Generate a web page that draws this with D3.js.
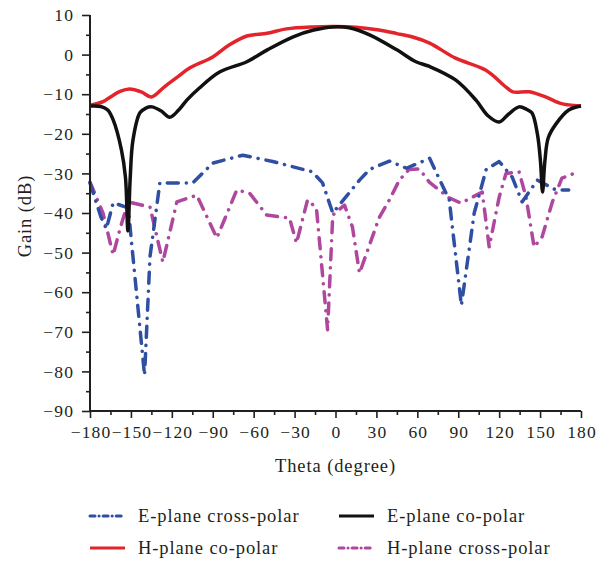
<!DOCTYPE html>
<html>
<head>
<meta charset="utf-8">
<script src="https://cdn.jsdelivr.net/npm/d3@7"></script>
<style>
  body { margin: 0; background: #fff; }
  svg text { font-family: "Liberation Serif", "Times New Roman", serif; fill: #231f20; }
</style>
</head>
<body>
<script>
// ---------------- data (gain in dB against theta in degrees) ----------------

const hCoTheta = [-180, -170, -165, -158, -151, -142, -135, -125, -116, -107, -90, -78, -65, -50, -36, -17, 0, 15, 32, 45, 56, 69, 88, 110, 125, 130, 142, 154, 165, 171, 180];
const hCoGain  = [-12.8, -11.8, -10.7, -9.3, -8.7, -9.5, -10.7, -8, -5.7, -3.4, -0.6, 2.4, 4.7, 5.4, 6.5, 7, 7.1, 6.9, 6.2, 5.3, 4.5, 2.9, -0.9, -3.9, -8.2, -9.4, -9.4, -10.7, -12.3, -12.7, -13];

const eCoTheta = [-180, -172, -167, -163, -157, -154, -152.2, -150.5, -148.5, -143.4, -139, -134.6, -128, -121.5, -115, -109, -100, -85, -65, -50, -31, -16, -2, 10, 25, 45, 59, 69, 88, 103, 112, 120, 127, 134.6, 140, 144, 148, 150.3, 151.8, 153.5, 156, 161.7, 171, 180];
const eCoGain  = [-13, -13.1, -14, -16.5, -24, -31, -44.5, -31, -21.6, -14.7, -13.5, -13.2, -14.2, -15.8, -14, -11.5, -8.5, -4.4, -1.8, 1.2, 4.5, 6.2, 7, 6.8, 5, 1.2, -1.8, -3, -6.4, -11.5, -15.5, -17, -15, -13.2, -13.8, -14.7, -20, -27, -34.7, -27, -21, -17.5, -14, -13];

const eXTheta = [-180, -172, -168, -163, -152, -140, -136, -128.8, -104.6, -90, -68, -46, -17, -9.5, -2, 17.6, 25, 39.5, 52, 69, 83.4, 92.3, 101.7, 110.5, 120, 129.5, 136.8, 148, 161.7, 171];
const eXGain  = [-32.4, -41, -44, -37.4, -38.7, -81, -51, -32.4, -32.4, -27.4, -25.4, -27, -29.6, -32.4, -40, -31.7, -29, -26.9, -28.7, -26.2, -36.7, -63.3, -40, -29, -27, -30.9, -37.2, -31.7, -34.2, -34.2];

const hXTheta = [-180, -170.5, -163, -158, -152, -136, -126.6, -116.3, -101.7, -87, -72.4, -63, -50.5, -33.7, -28.6, -20.5, -14, -5.8, -2, 6.6, 12.4, 17.6, 32, 39.5, 46.8, 54, 61.5, 68.8, 83.4, 92, 107.6, 112.7, 120, 125, 134.6, 139.7, 145.6, 151.5, 159, 166, 175];
const hXGain  = [-32.2, -40, -50.6, -44, -37.2, -38.5, -52.4, -37.2, -35.5, -46.3, -34.2, -35, -40.5, -41.3, -47.6, -36.7, -38.7, -69.5, -40.5, -38, -43.5, -55.2, -41.2, -36.7, -31.7, -29, -28.9, -32.2, -36.2, -37.5, -34.7, -48.6, -36, -30, -29.6, -36, -48.6, -46, -37.2, -31.2, -30];

const xMajorTicks = d3.range(-180, 181, 30);
const xMinorTicks = d3.range(-165, 180, 30);
const yMajorTicks = d3.range(-90, 11, 10);
const yMinorTicks = d3.range(-85, 10, 10);

const legendItems = [
	{ label: 'E-plane cross-polar', color: '#2f4fa3', dash: '5,4,0.1,4', col: 0, row: 0 },
	{ label: 'E-plane co-polar', color: '#111111', dash: null, col: 1, row: 0 },
	{ label: 'H-plane co-polar', color: '#e3242b', dash: null, col: 0, row: 1 },
	{ label: 'H-plane cross-polar', color: '#b0479f', dash: '5,4,0.1,4', col: 1, row: 1 },
];

// ---------------- chart ----------------

const width = 597, height = 565;
const margin = { left: 90, right: 581, top: 15, bottom: 411 };

const svg = d3.select('body').append('svg').attr('width', width).attr('height', height);

const x = d3.scaleLinear().domain([-180, 180]).range([margin.left, margin.right]);
const y = d3.scaleLinear().domain([-90, 10]).range([margin.bottom, margin.top]);

const smooth = d3.line().x((d) => x(d[0])).y((d) => y(d[1])).curve(d3.curveCatmullRom.alpha(0.5));
const jagged = d3.line().x((d) => x(d[0])).y((d) => y(d[1]));

const zip = (a, b) => a.map((v, i) => [v, b[i]]);

const plot = svg.append('g').attr('fill', 'none').attr('stroke-linejoin', 'round');

plot.append('path')
	.attr('d', jagged(zip(hXTheta, hXGain)))
	.attr('stroke', '#b0479f')
	.attr('stroke-width', 3.5)
	.attr('stroke-linecap', 'round')
	.attr('stroke-dasharray', '11,8,0.1,8');

plot.append('path')
	.attr('d', jagged(zip(eXTheta, eXGain)))
	.attr('stroke', '#2f4fa3')
	.attr('stroke-width', 3.5)
	.attr('stroke-linecap', 'round')
	.attr('stroke-dasharray', '11,8,0.1,8');

plot.append('path')
	.attr('d', smooth(zip(hCoTheta, hCoGain)))
	.attr('stroke', '#e3242b')
	.attr('stroke-width', 3.5);

plot.append('path')
	.attr('d', smooth(zip(eCoTheta, eCoGain)))
	.attr('stroke', '#111111')
	.attr('stroke-width', 3.5);

// axes
const xAxis = svg.append('g').attr('transform', `translate(0,${margin.bottom})`);
xAxis.call(d3.axisBottom(x).tickValues(xMajorTicks).tickSize(7).tickPadding(8).tickFormat(d3.format('d')));
xAxis.append('g').call(d3.axisBottom(x).tickValues(xMinorTicks).tickSize(4).tickFormat(''));

const yAxis = svg.append('g').attr('transform', `translate(${margin.left},0)`);
yAxis.call(d3.axisLeft(y).tickValues(yMajorTicks).tickSize(8).tickPadding(8).tickFormat(d3.format('d')));
yAxis.append('g').call(d3.axisLeft(y).tickValues(yMinorTicks).tickSize(4).tickFormat(''));

svg.selectAll('.domain').attr('stroke', '#231f20').attr('stroke-width', 2);
svg.selectAll('.tick line').attr('stroke', '#231f20').attr('stroke-width', 1.6);
svg.selectAll('.tick text')
	.attr('font-size', 17.5)
	.attr('letter-spacing', 1.1)
	.style('font-family', '"Liberation Serif", serif')
	.attr('fill', '#231f20');
xAxis.selectAll('.domain').attr('d', `M${margin.left},0H${margin.right}`);
yAxis.selectAll('.domain').attr('d', `M0,${margin.bottom}V${margin.top}`);
xAxis.selectAll('.tick text').attr('dx', 0.5);

// axis titles
svg.append('text')
	.attr('x', (margin.left + margin.right) / 2)
	.attr('y', 472)
	.attr('text-anchor', 'middle')
	.attr('font-size', 18.5)
	.attr('letter-spacing', 0.9)
	.text('Theta (degree)');

svg.append('text')
	.attr('transform', 'translate(31,216) rotate(-90)')
	.attr('text-anchor', 'middle')
	.attr('font-size', 18.5)
	.attr('letter-spacing', 0.9)
	.text('Gain (dB)');

// legend
const legend = svg.append('g');
legendItems.forEach((item) => {
	const lx = item.col === 0 ? 90 : 339;
	const ly = item.row === 0 ? 516 : 548;
	legend.append('line')
		.attr('x1', lx).attr('x2', lx + 35)
		.attr('y1', ly).attr('y2', ly)
		.attr('stroke', item.color)
		.attr('stroke-width', 3)
		.attr('stroke-linecap', item.dash ? 'round' : 'butt')
		.attr('stroke-dasharray', item.dash);
	legend.append('text')
		.attr('x', lx + 48)
		.attr('y', ly + 6)
		.attr('font-size', 18.5)
		.attr('letter-spacing', 0.9)
		.text(item.label);
});
</script>
</body>
</html>
